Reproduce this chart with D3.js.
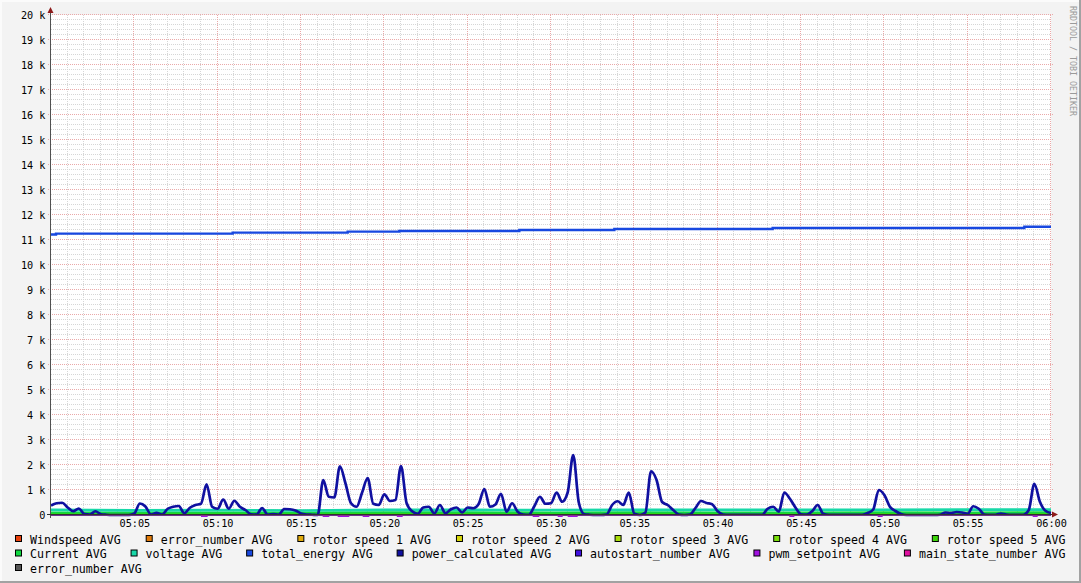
<!DOCTYPE html>
<html><head><meta charset="utf-8">
<script src="https://cdn.jsdelivr.net/npm/d3@7"></script>
<style>
html,body{margin:0;padding:0;background:#f3f3f3;}
svg{display:block;}
text{font-family:"DejaVu Sans Mono",monospace;}
</style></head><body>
<svg id="chart" width="1081" height="583"></svg>
<script>
// ---------------- DATA ----------------
const yTickValues = [0,1000,2000,3000,4000,5000,6000,7000,8000,9000,10000,11000,12000,13000,14000,15000,16000,17000,18000,19000,20000];
const yTickLabels = ["0","1 k","2 k","3 k","4 k","5 k","6 k","7 k","8 k","9 k","10 k","11 k","12 k","13 k","14 k","15 k","16 k","17 k","18 k","19 k","20 k"];
const xTickMinutes = [5,10,15,20,25,30,35,40,45,50,55,60];
const xTickLabels = ["05:05","05:10","05:15","05:20","05:25","05:30","05:35","05:40","05:45","05:50","05:55","06:00"];

// power_calculated AVG, one value every 20 seconds from 05:00 to 06:00
const powerStepSeconds = 20;
const powerCalculated = [
 380,470,490,300,150,260,40,20,150,30,
 10,0,0,0,0,60,460,340,20,90,
 20,250,330,360,70,290,400,450,1230,330,
 250,620,250,570,330,200,30,20,280,20,
 40,20,240,230,180,60,20,10,0,1400,
 730,700,1950,1270,470,330,900,1480,450,400,
 830,560,600,1960,480,150,50,300,330,60,
 400,70,230,300,100,300,270,450,1040,330,
 420,850,130,470,130,20,10,350,730,450,
 470,900,530,900,2400,500,30,10,0,0,
 20,400,550,400,900,50,0,100,1750,1400,
 520,400,200,20,0,20,280,560,480,430,
 150,20,10,10,10,10,10,10,10,250,
 330,130,900,650,300,30,20,150,400,50,
 10,10,10,10,10,10,10,80,220,1000,
 800,330,160,40,0,0,0,0,0,0,
 10,100,80,120,100,50,350,250,20,10,
 10,60,20,10,10,10,200,1250,530,170,
 80
];

// total_energy AVG (stepped), minute offsets after 05:00 and values
const energyMinutes = [0, 0.3, 10.9, 17.8, 20.9, 28.1, 33.8, 43.3, 58.4, 60];
const totalEnergy   = [11220, 11256, 11296, 11336, 11362, 11400, 11440, 11480, 11530, 11530];

// slower series, one value every 5 minutes (05:00 ... 06:00)
const minutes5 = [0,5,10,15,20,25,30,35,40,45,50,55,60];
const windspeed      = [5,6,5,4,6,5,6,6,5,4,5,5,6];
const errorNumberA   = [0,0,0,0,0,0,0,0,0,0,0,0,0];
const rotorSpeed1    = [40,42,40,38,44,42,40,42,40,40,42,40,42];
const rotorSpeed2    = [58,62,60,55,64,62,60,62,60,58,60,62,60];
const rotorSpeed3    = [70,75,72,68,78,74,72,74,72,70,74,72,74];
const rotorSpeed4    = [48,50,48,46,52,50,48,50,48,46,50,48,50];
const rotorSpeed5    = [52,55,52,50,56,54,52,54,52,50,54,52,54];
const current        = [105,102,100,98,108,106,104,106,102,100,106,104,106];
const voltage        = [205,185,195,180,205,205,200,205,205,204,210,214,216];
const autostart      = [1,1,1,1,1,1,1,1,1,1,1,1,1];
const mainState      = [2,2,2,2,2,2,2,2,2,2,2,2,2];
const errorNumberB   = [0,0,0,0,0,0,0,0,0,0,0,0,0];

// pwm_setpoint AVG: known only in short intervals (value 0)
const pwmStart = [9.0, 16.3, 17.2, 18.7, 20.75, 28.9, 30.4, 31.0, 44.3, 49.6, 58.9];
const pwmEnd   = [9.4, 16.7, 17.9, 19.1, 21.1, 29.3, 30.7, 31.6, 44.6, 49.9, 59.2];
const pwmValue = [0,0,0,0,0,0,0,0,0,0,0];

const legendNames = ["Windspeed AVG","error_number AVG","rotor speed 1 AVG","rotor speed 2 AVG","rotor speed 3 AVG","rotor speed 4 AVG","rotor speed 5 AVG",
  "Current AVG","voltage AVG","total_energy AVG","power_calculated AVG","autostart_number AVG","pwm_setpoint AVG","main_state_number AVG",
  "error_number AVG"];
const legendColors = ["#E8400C","#E07A0A","#E0AA0A","#D6D60A","#A8DC0A","#78DC0A","#3CD40A",
  "#10D840","#18D8A8","#1848E0","#1010A0","#4010E0","#A010E0","#E010A0","#555555"];
const legendRows = [[0,1,2,3,4,5,6],[7,8,9,10,11,12,13],[14]];

// ---------------- CHART ----------------
const W = 1081, H = 583;
const plot = {l:51, r:1051, t:15, b:515};
const svg = d3.select("#chart");
const t0 = Date.UTC(2024,0,1,5,0,0);
const tm = m => new Date(t0 + m*60000);

const x = d3.scaleUtc().domain([tm(0), tm(60)]).range([plot.l, plot.r]);
const y = d3.scaleLinear().domain([0, 20000]).range([plot.b, plot.t]);

// background + frame
svg.append("rect").attr("width",W).attr("height",H).attr("fill","#f3f3f3");
svg.append("rect").attr("x",0).attr("y",0).attr("width",W).attr("height",2).attr("fill","#fbfbfb");
svg.append("rect").attr("x",0).attr("y",0).attr("width",2).attr("height",H).attr("fill","#fbfbfb");
svg.append("rect").attr("x",W-2).attr("y",0).attr("width",2).attr("height",H).attr("fill","#a2a2a2");
svg.append("rect").attr("x",0).attr("y",H-2).attr("width",W).attr("height",2).attr("fill","#a2a2a2");
svg.append("rect").attr("x",plot.l).attr("y",plot.t).attr("width",plot.r-plot.l).attr("height",plot.b-plot.t).attr("fill","#ffffff");

// grid
const grid = svg.append("g");
const minorY = d3.range(0, 20001, 200).filter(v => v % 1000 !== 0);
const minorX = d3.utcMinute.every(1).range(tm(0), tm(60.01)).filter(d => d.getUTCMinutes() % 5 !== 0);
const majorX = d3.utcMinute.every(5).range(tm(0), tm(60.01));
const cr = v => Math.round(v) + 0.5;
grid.selectAll(".mh").data(minorY).join("line")
  .attr("x1",plot.l).attr("x2",plot.r).attr("y1",d=>cr(y(d))-1).attr("y2",d=>cr(y(d))-1)
  .attr("stroke","#d6d6d6").attr("stroke-dasharray","1,1");
grid.selectAll(".mv").data(minorX).join("line")
  .attr("x1",d=>cr(x(d))-1).attr("x2",d=>cr(x(d))-1).attr("y1",plot.t).attr("y2",plot.b)
  .attr("stroke","#d6d6d6").attr("stroke-dasharray","1,1");
grid.selectAll(".Mh").data(yTickValues).join("line")
  .attr("x1",plot.l-3).attr("x2",plot.r+3).attr("y1",d=>cr(y(d))-1).attr("y2",d=>cr(y(d))-1)
  .attr("stroke","#eaa8a8").attr("stroke-dasharray","1,1");
grid.selectAll(".Mv").data(majorX.slice(1)).join("line")
  .attr("x1",d=>cr(x(d))-1).attr("x2",d=>cr(x(d))-1).attr("y1",plot.t).attr("y2",plot.b+2)
  .attr("stroke","#eaa8a8").attr("stroke-dasharray","1,1");

// series
const line5 = d3.line().x((d,i)=>x(tm(minutes5[i]))).y(d=>y(d));
function drawSeries(vals, color, w) {
  svg.append("path").datum(vals).attr("d", line5).attr("fill","none")
    .attr("stroke", color).attr("stroke-width", w).attr("stroke-linejoin","round");
}
drawSeries(windspeed, legendColors[0], 2);
drawSeries(errorNumberA, legendColors[1], 2);
drawSeries(rotorSpeed1, legendColors[2], 2);
drawSeries(rotorSpeed2, legendColors[3], 2);
drawSeries(rotorSpeed3, legendColors[4], 2);
drawSeries(rotorSpeed4, legendColors[5], 2);
drawSeries(rotorSpeed5, legendColors[6], 2);
drawSeries(current, legendColors[7], 2);
drawSeries(voltage, legendColors[8], 2.6);

// total energy (stepped)
const energyLine = d3.line().curve(d3.curveStepAfter)
  .x((d,i)=>x(tm(energyMinutes[i]))).y(d=>y(d));
svg.append("path").datum(totalEnergy).attr("d", energyLine).attr("fill","none")
  .attr("stroke", legendColors[9]).attr("stroke-width", 2.4);

// power calculated
const powerLine = d3.line().curve(d3.curveMonotoneX)
  .x((d,i)=>x(new Date(t0 + i*powerStepSeconds*1000))).y(d=>y(d));
svg.append("path").datum(powerCalculated).attr("d", powerLine).attr("fill","none")
  .attr("stroke", legendColors[10]).attr("stroke-width", 2.7).attr("stroke-linejoin","round");

drawSeries(autostart, legendColors[11], 2);

// pwm setpoint segments
svg.selectAll(".pwm").data(pwmValue).join("line")
  .attr("x1",(d,i)=>x(tm(pwmStart[i]))).attr("x2",(d,i)=>x(tm(pwmEnd[i])))
  .attr("y1",d=>y(d)+1).attr("y2",d=>y(d)+1)
  .attr("stroke", legendColors[12]).attr("stroke-width", 2);

drawSeries(mainState, legendColors[13], 1);
drawSeries(errorNumberB, legendColors[14], 1);

// axes lines
svg.append("line").attr("x1",plot.l-0.5).attr("x2",plot.l-0.5).attr("y1",plot.b+3).attr("y2",plot.t-4)
  .attr("stroke","#505050").attr("stroke-width",1);
svg.append("line").attr("x1",plot.l-4).attr("x2",plot.r+2).attr("y1",plot.b-0.5).attr("y2",plot.b-0.5)
  .attr("stroke","#303030").attr("stroke-width",1.2);
svg.append("path").attr("d",`M${plot.l-3.5},${plot.t-2}L${plot.l+2.5},${plot.t-2}L${plot.l-0.5},${plot.t-8}Z`).attr("fill","#8e1b1b");
svg.append("path").attr("d",`M${plot.r+1},${plot.b-3.5}L${plot.r+1},${plot.b+2.5}L${plot.r+7},${plot.b-0.5}Z`).attr("fill","#8e1b1b");

// axis labels via d3 axes
const yAxis = d3.axisLeft(y).tickValues(yTickValues).tickFormat((d,i)=>yTickLabels[i]).tickSize(0).tickPadding(5.5);
const gy = svg.append("g").attr("transform",`translate(${plot.l},0)`).call(yAxis);
gy.select(".domain").remove();
gy.selectAll("text").attr("font-family","DejaVu Sans Mono").attr("font-size","10.2px").attr("fill","#000").attr("dy","0.38em");

const xAxis = d3.axisBottom(x).tickValues(xTickMinutes.map(tm)).tickFormat((d,i)=>xTickLabels[i]).tickSize(0).tickPadding(5);
const gx = svg.append("g").attr("transform",`translate(0,${plot.b})`).call(xAxis);
gx.select(".domain").remove();
gx.selectAll("text").attr("font-family","DejaVu Sans Mono").attr("font-size","10.2px").attr("fill","#000");

// legend
const rowBase = [543.5, 558, 572.5];
legendRows.forEach((row, r) => {
  const items = row.map(i => {
    const g = svg.append("g");
    g.append("rect").attr("width",6).attr("height",6).attr("fill",legendColors[i]).attr("stroke","#000").attr("stroke-width",1);
    const t = g.append("text").text(legendNames[i]).attr("font-size","11.6px").attr("fill","#000").attr("xml:space","preserve");
    return {g, t, w: 14.5 + t.node().getComputedTextLength()};
  });
  const x0 = 15.5, x1 = 1065.5;
  const total = d3.sum(items, d=>d.w);
  const gap = items.length > 1 ? (x1 - x0 - total)/(items.length - 1) : 0;
  let cx = x0;
  items.forEach(it => {
    it.g.select("rect").attr("x", cx).attr("y", rowBase[r]-8);
    it.t.attr("x", cx + 14.5).attr("y", rowBase[r]);
    cx += it.w + gap;
  });
});

// watermark
svg.append("text").text("RRDTOOL / TOBI OETIKER")
  .attr("transform","translate(1069.5,6) rotate(90)")
  .attr("font-size","8.3px").attr("fill","#9a9a9a");
</script>
</body></html>
